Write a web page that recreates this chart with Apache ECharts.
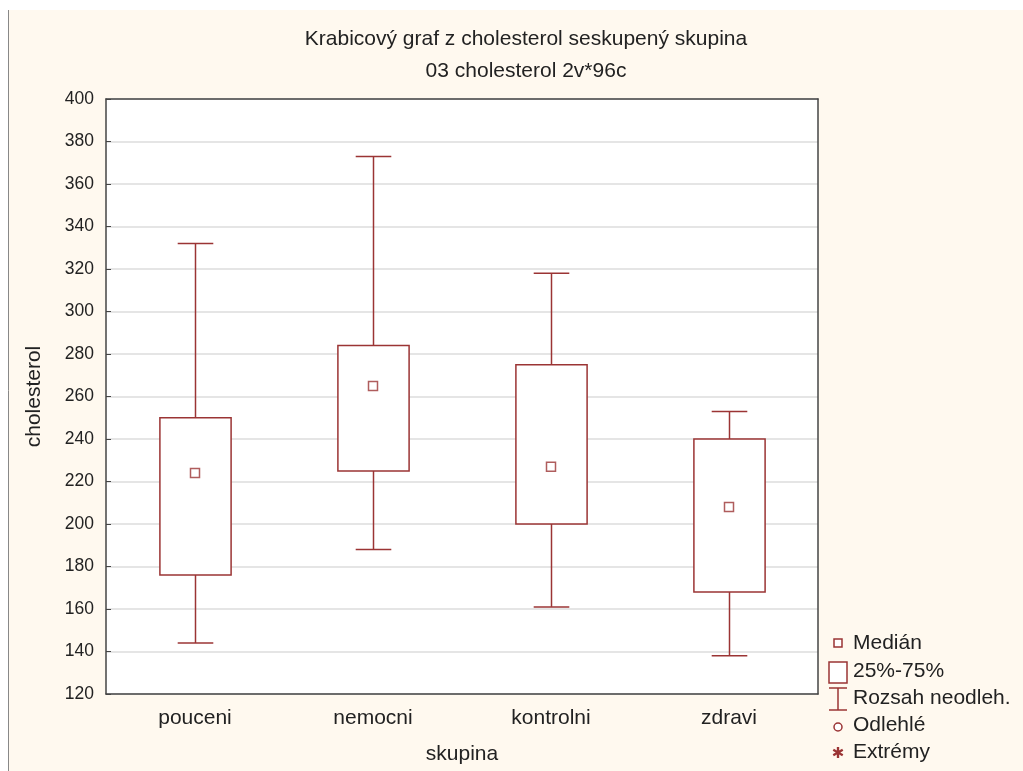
<!DOCTYPE html>
<html>
<head>
<meta charset="utf-8">
<script src="https://cdn.jsdelivr.net/npm/echarts@6/dist/echarts.min.js"></script>
<style>
html,body{margin:0;padding:0;background:#fff;}
#main{width:1023px;height:771px;}
</style>
</head>
<body>
<div id="main"></div>
<script>
// data
var categories=['pouceni','nemocni','kontrolni','zdravi'];
var whiskerLow=[144,188,161,138];
var q1=[176,225,200,168];
var median=[224,265,227,208];
var q3=[250,284,275,240];
var whiskerHigh=[332,373,318,253];
var yTicks=[120,400,20]; // min, max, step

var red='#9b3434';
var font='Liberation Sans';
var fs=21;

var boxData=[];
for(var i=0;i<categories.length;i++){
	boxData.push([i,whiskerLow[i],q1[i],median[i],q3[i],whiskerHigh[i]]);
}
var medData=[];
for(var i=0;i<categories.length;i++){
	medData.push([i,median[i]]);
}

function renderBox(params,api){
	var x=api.value(0);
	var band=api.size([1,0])[0];
	var boxW=band*0.4, capW=band*0.2;
	var pLow=api.coord([x,api.value(1)]);
	var pQ1=api.coord([x,api.value(2)]);
	var pQ3=api.coord([x,api.value(4)]);
	var pHigh=api.coord([x,api.value(5)]);
	var cx=Math.round(pLow[0])+0.5;
	var st={stroke:red,lineWidth:1.5,fill:null};
	return {
		type:'group',
		children:[
			{type:'line',shape:{x1:cx,y1:pHigh[1],x2:cx,y2:pQ3[1]},style:st},
			{type:'line',shape:{x1:cx,y1:pQ1[1],x2:cx,y2:pLow[1]},style:st},
			{type:'line',shape:{x1:cx-capW/2,y1:pHigh[1],x2:cx+capW/2,y2:pHigh[1]},style:st},
			{type:'line',shape:{x1:cx-capW/2,y1:pLow[1],x2:cx+capW/2,y2:pLow[1]},style:st},
			{type:'rect',shape:{x:cx-boxW/2,y:pQ3[1],width:boxW,height:pQ1[1]-pQ3[1]},
				style:{stroke:red,lineWidth:1.5,fill:'#fff'}}
		]
	};
}

function legText(t,y){
	return {type:'text',x:853,y:y,style:{text:t,font:fs+'px '+font,fill:'#222',verticalAlign:'middle'}};
}

var chart=echarts.init(document.getElementById('main'));
var option={
	backgroundColor:'#fff',
	animation:false,
	title:{
		text:'Krabicový graf z cholesterol seskupený skupina',
		subtext:'03 cholesterol 2v*96c',
		left:521,
		top:24,
		textAlign:'center',
		itemGap:11,
		textStyle:{fontFamily:font,fontSize:fs,fontWeight:'normal',color:'#222'},
		subtextStyle:{fontFamily:font,fontSize:fs,color:'#222'}
	},
	graphic:[
		{type:'rect',z:-10,silent:true,shape:{x:8,y:10,width:1015,height:761},style:{fill:'#fff9ef'}},
		{type:'line',z:-9,silent:true,shape:{x1:8.5,y1:10,x2:8.5,y2:771},style:{stroke:'#888',lineWidth:1}},
		{type:'rect',z:-8,silent:true,shape:{x:106,y:99,width:712,height:595},style:{fill:'#fff'}},
		// legend
		{type:'rect',shape:{x:834,y:639,width:8,height:8},style:{fill:'#fff',stroke:red,lineWidth:1.5}},
		legText('Medián',643),
		{type:'rect',shape:{x:829,y:662,width:18,height:21},style:{fill:'#fff',stroke:red,lineWidth:1.5}},
		legText('25%-75%',671),
		{type:'line',shape:{x1:829,y1:688,x2:847,y2:688},style:{stroke:red,lineWidth:1.5}},
		{type:'line',shape:{x1:838,y1:688,x2:838,y2:710},style:{stroke:red,lineWidth:1.5}},
		{type:'line',shape:{x1:829,y1:710,x2:847,y2:710},style:{stroke:red,lineWidth:1.5}},
		legText('Rozsah neodleh.',698),
		{type:'circle',shape:{cx:838,cy:727,r:4},style:{fill:'#fff',stroke:red,lineWidth:1.5}},
		legText('Odlehlé',725),
		{type:'text',x:838,y:754,style:{text:'✱',font:'15px DejaVu Sans',fill:red,align:'center',verticalAlign:'middle'}},
		legText('Extrémy',752)
	],
	grid:{left:106,right:205,top:99,bottom:77,show:false,containLabel:false,outerBoundsMode:'none'},
	xAxis:[{
		type:'category',
		data:categories,
		position:'bottom',
		name:'skupina',
		nameLocation:'middle',
		nameGap:50,
		nameTextStyle:{fontFamily:font,fontSize:fs,color:'#222'},
		axisLine:{lineStyle:{color:'#444',width:1.5}},
		axisTick:{inside:true,alignWithLabel:true,length:5,lineStyle:{color:'#444'}},
		axisLabel:{fontFamily:font,fontSize:fs,color:'#222',margin:14},
		splitLine:{show:false}
	},{
		type:'category',
		data:categories,
		position:'top',
		axisLine:{lineStyle:{color:'#444',width:1.5}},
		axisTick:{inside:true,alignWithLabel:true,length:5,lineStyle:{color:'#444'}},
		axisLabel:{show:false}
	}],
	yAxis:[{
		type:'value',
		min:yTicks[0],
		max:yTicks[1],
		interval:yTicks[2],
		name:'cholesterol',
		nameLocation:'middle',
		nameGap:61,
		nameTextStyle:{fontFamily:font,fontSize:fs,color:'#222'},
		axisLine:{show:true,lineStyle:{color:'#444',width:1.5}},
		axisTick:{show:true,inside:true,length:5,lineStyle:{color:'#444'}},
		axisLabel:{fontFamily:font,fontSize:17.5,color:'#222',margin:12},
		splitLine:{show:true,lineStyle:{color:'#dcdcdc',width:1.5}}
	},{
		type:'value',
		min:yTicks[0],
		max:yTicks[1],
		interval:yTicks[2],
		position:'right',
		axisLine:{show:true,lineStyle:{color:'#444',width:1.5}},
		axisTick:{show:false},
		axisLabel:{show:false},
		splitLine:{show:false}
	}],
	series:[{
		type:'custom',
		name:'25%-75%',
		renderItem:renderBox,
		encode:{x:0,y:[1,2,3,4,5]},
		data:boxData,
		z:2
	},{
		type:'scatter',
		name:'Medián',
		symbol:'rect',
		symbolSize:9,
		itemStyle:{color:'#fff',borderColor:red,borderWidth:1.5},
		data:medData,
		z:3
	}]
};
chart.setOption(option);
</script>
</body>
</html>
